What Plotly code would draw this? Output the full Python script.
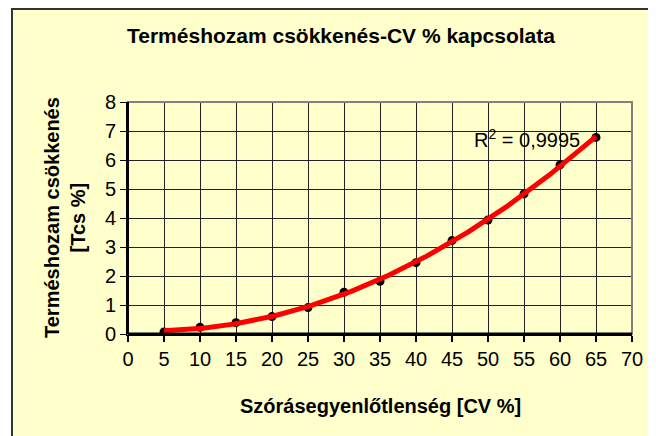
import numpy as np
import plotly.graph_objects as go

cv = [5, 10, 15, 20, 25, 30, 35, 40, 45, 50, 55, 60, 65]
tcs = [0.07, 0.23, 0.39, 0.60, 0.91, 1.44, 1.82, 2.46, 3.22, 3.93, 4.83, 5.83, 6.78]
x_ticks = list(range(0, 75, 5))
y_ticks = list(range(0, 9, 1))
title_text = "Terméshozam csökkenés-CV % kapcsolata"
x_title = "Szórásegyenlőtlenség [CV %]"
y_title = "Terméshozam csökkenés<br>[Tcs %]"
r2_text = "R<sup>2</sup> = 0,9995"

# 2nd-order polynomial trendline fitted to the points (as in the original chart)
coef = np.polyfit(cv, tcs, 2)
xf = np.linspace(min(cv), max(cv), 200)
yf = np.polyval(coef, xf)

W, H = 656, 436
# plot area in figure pixel coordinates
L, R, T, B = 120, 624, 94, 326
pw, ph = R - L, B - T


def px(x):
    return (x - L) / pw


def py(y):
    return (B - y) / ph


fig = go.Figure()
fig.add_trace(go.Scatter(x=cv, y=tcs, mode="markers",
                         marker=dict(color="black", size=9), showlegend=False))
fig.add_trace(go.Scatter(x=xf, y=yf, mode="lines",
                         line=dict(color="#FF0000", width=5), showlegend=False))

font = "Liberation Sans, Arial, sans-serif"
fig.update_layout(
    width=W, height=H,
    margin=dict(l=L, r=W - R, t=T, b=H - B, autoexpand=False),
    paper_bgcolor="white",
    plot_bgcolor="#CCFFCC",
    font=dict(family=font, size=20, color="black"),
    showlegend=False,
)
fig.update_xaxes(range=[0, 70], tickvals=x_ticks, ticks="outside", ticklen=6,
                 tickwidth=2, tickcolor="black", showline=True, linecolor="black",
                 linewidth=2, showgrid=True, gridcolor="#222222", gridwidth=1,
                 zeroline=False, automargin=False, tickfont=dict(size=20))
fig.update_yaxes(range=[0, 8], tickvals=y_ticks, ticks="outside", ticklen=6,
                 tickwidth=1, tickcolor="black", showline=True, linecolor="black",
                 linewidth=2, showgrid=True, gridcolor="#222222", gridwidth=1,
                 zeroline=False, automargin=False, tickfont=dict(size=20))

# outer chart area
fig.add_shape(type="rect", xref="paper", yref="paper", layer="below",
              x0=px(4), x1=px(W + 10), y0=py(H + 10), y1=py(1),
              fillcolor="#FFFFCC", line=dict(color="#333333", width=2))
# plot area border
fig.add_shape(type="rect", xref="paper", yref="paper", layer="above",
              x0=0, x1=1, y0=0, y1=1, line=dict(color="#808080", width=2))
# re-draw the black axes over the border
fig.add_shape(type="line", xref="paper", yref="paper", layer="above",
              x0=0, x1=1, y0=0, y1=0, line=dict(color="black", width=3))
fig.add_shape(type="line", xref="paper", yref="paper", layer="above",
              x0=0, x1=0, y0=0, y1=1, line=dict(color="black", width=2))

# chart title
fig.add_annotation(text="<b>%s</b>" % title_text, xref="paper", yref="paper",
                   x=px(333), y=py(27), showarrow=False, xanchor="center",
                   yanchor="middle", font=dict(size=21))
# x-axis title
fig.add_annotation(text="<b>%s</b>" % x_title, xref="paper", yref="paper",
                   x=px(372), y=py(398), showarrow=False, xanchor="center",
                   yanchor="middle", font=dict(size=20))
# y-axis title
fig.add_annotation(text="<b>%s</b>" % y_title, xref="paper", yref="paper",
                   x=px(57), y=0.5, showarrow=False, xanchor="center",
                   yanchor="middle", textangle=-90, font=dict(size=20))
# R^2 label
fig.add_annotation(text=r2_text, xref="paper", yref="paper",
                   x=px(519), y=py(130), showarrow=False, xanchor="center",
                   yanchor="middle", font=dict(size=20))

fig.write_html("out.html")
